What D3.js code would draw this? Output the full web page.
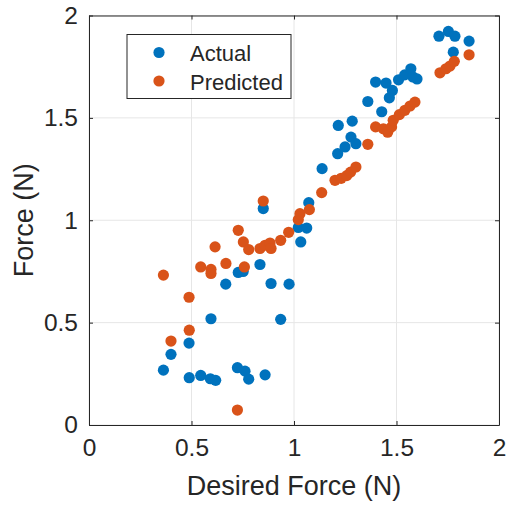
<!DOCTYPE html>
<html lang="en">
<head>
<meta charset="utf-8">
<script src="https://d3js.org/d3.v7.min.js"></script>
<style>
  body { margin: 0; background: #fff; }
  text { font-family: "Liberation Sans", Arial, Helvetica, sans-serif; fill: #262626; }
</style>
</head>
<body>
<script>
// desired force (x) vs measured force (y)
var actualX = [0.363, 0.40, 0.488, 0.489, 0.545, 0.592, 0.618, 0.724, 0.761, 0.779, 0.859,
  0.595, 0.667, 0.728, 0.752, 0.834, 0.850, 0.888, 0.935, 0.976, 1.021, 1.062, 1.033, 1.072,
  1.137, 1.213, 1.249, 1.278, 1.302, 1.216, 1.284, 1.36, 1.428, 1.398, 1.449, 1.48, 1.465,
  1.51, 1.54, 1.57, 1.58, 1.60, 1.707, 1.753, 1.785, 1.854, 1.777];
var actualY = [0.268, 0.345, 0.40, 0.231, 0.242, 0.226, 0.218, 0.28, 0.263, 0.224, 0.245,
  0.519, 0.688, 0.745, 0.75, 0.784, 1.057, 0.691, 0.516, 0.688, 0.965, 0.962, 0.894, 1.086,
  1.252, 1.325, 1.358, 1.406, 1.374, 1.463, 1.484, 1.58, 1.53, 1.675, 1.67, 1.634, 1.598,
  1.686, 1.71, 1.74, 1.70, 1.69, 1.899, 1.922, 1.899, 1.875, 1.821];

var predX = [0.724, 0.363, 0.488, 0.489, 0.40, 0.545, 0.595, 0.595, 0.668, 0.615, 0.728,
  0.753, 0.779, 0.834, 0.859, 0.883, 0.888, 0.935, 0.974, 0.758, 0.850, 1.021, 1.029, 1.075,
  1.135, 1.20, 1.23, 1.257, 1.276, 1.302, 1.360, 1.398, 1.436, 1.457, 1.476, 1.484, 1.514,
  1.541, 1.566, 1.590, 1.712, 1.741, 1.761, 1.782, 1.854];
var predY = [0.073, 0.732, 0.624, 0.463, 0.41, 0.772, 0.76, 0.74, 0.789, 0.870, 0.951,
  0.894, 0.857, 0.862, 0.878, 0.889, 0.862, 0.902, 0.941, 0.772, 1.094, 1.003, 1.032, 1.052,
  1.135, 1.195, 1.205, 1.218, 1.235, 1.26, 1.371, 1.456, 1.447, 1.43, 1.456, 1.488, 1.516,
  1.537, 1.558, 1.577, 1.72, 1.74, 1.753, 1.776, 1.808];

var xTicks = [0, 0.5, 1, 1.5, 2];
var yTicks = [0, 0.5, 1, 1.5, 2];
var seriesNames = ["Actual", "Predicted"];
var seriesColors = ["#0072BD", "#D95319"];

var w = 507, h = 506;
var mLeft = 89, mRight = 499, mTop = 15.5, mBottom = 425;

var svg = d3.select("body").append("svg")
  .attr("width", w)
  .attr("height", h);

var x = d3.scaleLinear().domain([0, 2]).range([mLeft, mRight]);
var y = d3.scaleLinear().domain([0, 2]).range([mBottom, mTop]);

// grid
svg.append("g").selectAll("line")
  .data(xTicks).enter().append("line")
  .attr("x1", function(d) { return x(d); }).attr("x2", function(d) { return x(d); })
  .attr("y1", mTop).attr("y2", mBottom)
  .attr("stroke", "#e6e6e6").attr("stroke-width", 1);
svg.append("g").selectAll("line")
  .data(yTicks).enter().append("line")
  .attr("y1", function(d) { return y(d); }).attr("y2", function(d) { return y(d); })
  .attr("x1", mLeft).attr("x2", mRight)
  .attr("stroke", "#e6e6e6").attr("stroke-width", 1);

// points
var actual = actualX.map(function(v, i) { return [v, actualY[i]]; });
var pred = predX.map(function(v, i) { return [v, predY[i]]; });

svg.append("g").selectAll("circle")
  .data(actual).enter().append("circle")
  .attr("cx", function(d) { return x(d[0]); })
  .attr("cy", function(d) { return y(d[1]); })
  .attr("r", 5.6)
  .attr("fill", seriesColors[0]);

svg.append("g").selectAll("circle")
  .data(pred).enter().append("circle")
  .attr("cx", function(d) { return x(d[0]); })
  .attr("cy", function(d) { return y(d[1]); })
  .attr("r", 5.6)
  .attr("fill", seriesColors[1]);

// axes (box with inward ticks)
function styleAxis(g) {
  g.select(".domain").attr("stroke", "#262626").attr("stroke-width", 1);
  g.selectAll(".tick line").attr("stroke", "#262626");
  g.selectAll(".tick text").attr("fill", "#262626")
    .style("font-family", "'Liberation Sans', Arial, sans-serif")
    .style("font-size", "24.5px");
}

svg.append("g").attr("transform", "translate(0," + mBottom + ")")
  .call(d3.axisBottom(x).tickValues(xTicks).tickFormat(d3.format("")).tickSizeInner(-4).tickSizeOuter(0).tickPadding(14))
  .call(styleAxis);
svg.append("g").attr("transform", "translate(0," + mTop + ")")
  .call(d3.axisTop(x).tickValues(xTicks).tickFormat("").tickSizeInner(-4).tickSizeOuter(0))
  .call(styleAxis);
svg.append("g").attr("transform", "translate(" + mLeft + ",0)")
  .call(d3.axisLeft(y).tickValues(yTicks).tickFormat(d3.format("")).tickSizeInner(-4).tickSizeOuter(0).tickPadding(11))
  .call(styleAxis);
svg.append("g").attr("transform", "translate(" + mRight + ",0)")
  .call(d3.axisRight(y).tickValues(yTicks).tickFormat("").tickSizeInner(-4).tickSizeOuter(0))
  .call(styleAxis);

// axis labels
svg.append("text")
  .attr("x", (mLeft + mRight) / 2).attr("y", 495)
  .attr("text-anchor", "middle")
  .style("font-size", "27px")
  .text("Desired Force (N)");
svg.append("text")
  .attr("transform", "translate(33," + ((mTop + mBottom) / 2) + ") rotate(-90)")
  .attr("text-anchor", "middle")
  .style("font-size", "27px")
  .text("Force (N)");

// legend
var lg = svg.append("g");
lg.append("rect")
  .attr("x", 127).attr("y", 34.5).attr("width", 164).attr("height", 64)
  .attr("fill", "#fff").attr("stroke", "#262626").attr("stroke-width", 1);
var rows = lg.selectAll("g").data(seriesNames).enter().append("g")
  .attr("transform", function(d, i) { return "translate(0," + (52.5 + i * 28.5) + ")"; });
rows.append("circle").attr("cx", 159).attr("cy", 0).attr("r", 5.6)
  .attr("fill", function(d, i) { return seriesColors[i]; });
rows.append("text").attr("x", 190).attr("y", 8.5)
  .style("font-size", "22px")
  .text(function(d) { return d; });
</script>
</body>
</html>
